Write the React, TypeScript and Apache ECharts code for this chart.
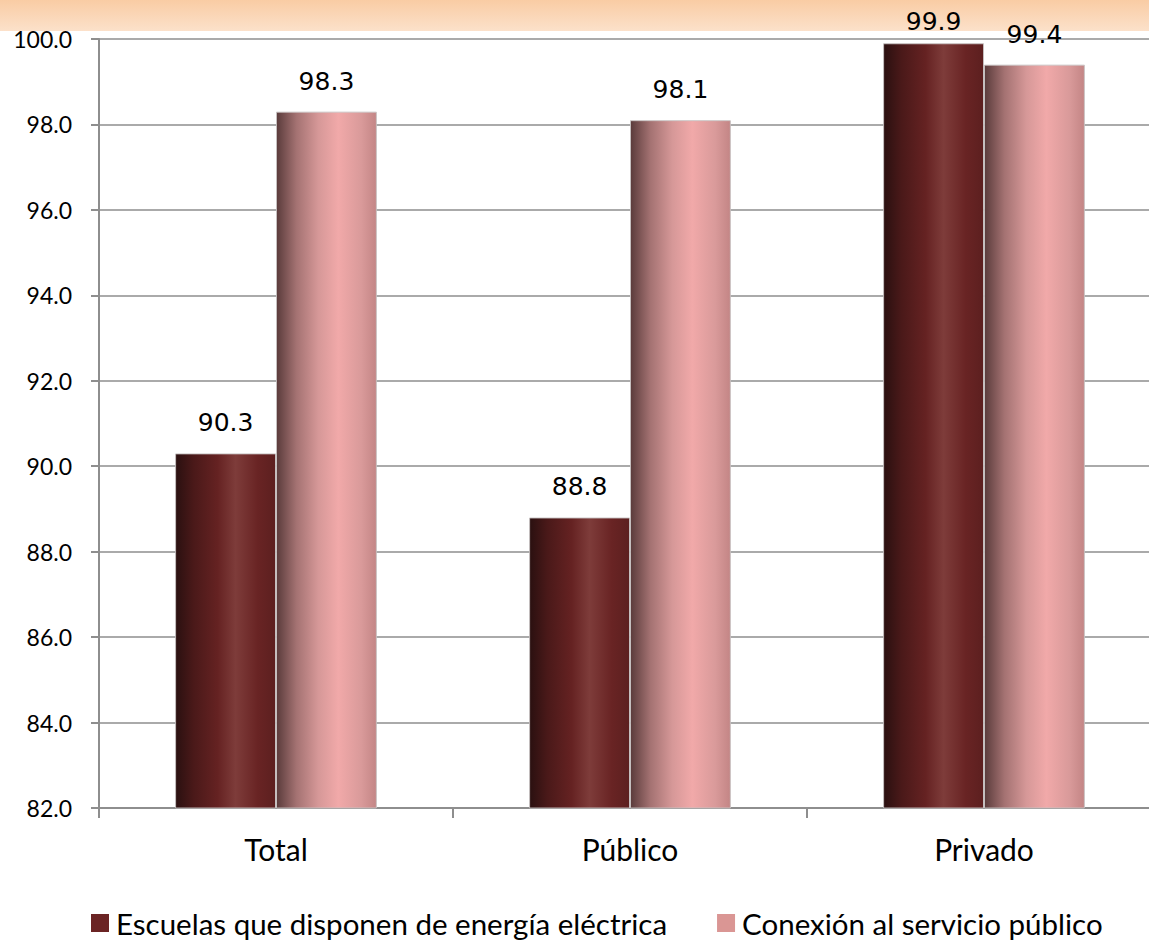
import React, { useEffect, useRef } from "react";
import * as echarts from "echarts";

const categories = ["Total", "Público", "Privado"];
const seriesNames = ["Escuelas que disponen de energía eléctrica", "Conexión al servicio público"];
const energia = [90.3, 88.8, 99.9];
const conexion = [98.3, 98.1, 99.4];
const yMin = 82;
const yMax = 100;
const yInterval = 2;

// labels that would climb above the chart area are nudged closer to their bar
const withLabelFit = (arr: number[]) =>
  arr.map((v) => (v > yMax - 0.3 ? { value: v, label: { distance: 9 } } : v));

export default function App() {
  const ref = useRef<HTMLDivElement>(null);
  useEffect(() => {
    document.body.style.margin = "0";
    const chart = echarts.init(ref.current!, null, { renderer: "svg" });
    const darkGrad = new echarts.graphic.LinearGradient(0, 0, 1, 0, [
      { offset: 0, color: "#2a1010" },
      { offset: 0.18, color: "#4a1919" },
      { offset: 0.42, color: "#652222" },
      { offset: 0.6, color: "#7e3c3a" },
      { offset: 0.82, color: "#692424" },
      { offset: 1, color: "#5c1f1f" },
    ]);
    const pinkGrad = new echarts.graphic.LinearGradient(0, 0, 1, 0, [
      { offset: 0, color: "#5a3b3b" },
      { offset: 0.2, color: "#a47272" },
      { offset: 0.42, color: "#d69898" },
      { offset: 0.62, color: "#f1a9a9" },
      { offset: 0.85, color: "#d99a9a" },
      { offset: 1, color: "#c38585" },
    ]);
    const labelStyle = {
      show: true,
      position: "top" as const,
      distance: 18,
      fontFamily: "DejaVu Sans",
      fontSize: 25,
      lineHeight: 25,
      color: "#000",
      formatter: (p: any) => Number(p.value).toFixed(1),
    };
    chart.setOption({
      animation: false,
      backgroundColor: "#ffffff",
      graphic: [
        {
          type: "rect",
          z: 0,
          shape: { x: 0, y: 0, width: 1149, height: 31 },
          style: {
            fill: new echarts.graphic.LinearGradient(0, 0, 0, 1, [
              { offset: 0, color: "#f9cca4" },
              { offset: 1, color: "#fce1ca" },
            ]),
          },
        },
      ],
      grid: {
        left: 99,
        top: 39,
        width: 1062,
        height: 769,
        containLabel: false,
        outerBoundsMode: "none",
      },
      legend: {
        left: 91,
        top: 908,
        padding: 0,
        itemWidth: 18,
        itemHeight: 18,
        itemGap: 50,
        icon: "rect",
        textStyle: {
          fontFamily: "Lato",
          fontSize: 29.5,
          lineHeight: 30,
          color: "#000",
          padding: [0, 0, 0, 2],
        },
        data: [
          { name: seriesNames[0], itemStyle: { color: "#6b2424", borderWidth: 0 } },
          { name: seriesNames[1], itemStyle: { color: "#da9694", borderWidth: 0 } },
        ],
      },
      xAxis: {
        type: "category",
        data: categories,
        axisLine: { lineStyle: { color: "#8e8e8e", width: 2 } },
        axisTick: { show: true, length: 10, lineStyle: { color: "#8e8e8e", width: 2 } },
        axisLabel: { fontFamily: "Lato", fontSize: 30, color: "#000", margin: 26 },
      },
      yAxis: {
        type: "value",
        min: yMin,
        max: yMax,
        interval: yInterval,
        axisLine: { show: true, lineStyle: { color: "#8e8e8e", width: 2 } },
        axisTick: { show: true, length: 8, lineStyle: { color: "#8e8e8e", width: 2 } },
        splitLine: { show: true, lineStyle: { color: "#8e8e8e", width: 1.5 } },
        axisLabel: {
          fontFamily: "Lato",
          fontSize: 23,
          color: "#000",
          margin: 27,
          formatter: (v: number) => v.toFixed(1),
        },
      },
      series: [
        {
          name: seriesNames[0],
          type: "bar",
          data: withLabelFit(energia),
          barGap: "0%",
          barCategoryGap: "43%",
          itemStyle: { color: darkGrad, borderColor: "rgba(200,195,195,0.9)", borderWidth: 1 },
          label: labelStyle,
        },
        {
          name: seriesNames[1],
          type: "bar",
          data: withLabelFit(conexion),
          barGap: "0%",
          barCategoryGap: "43%",
          itemStyle: { color: pinkGrad, borderColor: "rgba(200,195,195,0.9)", borderWidth: 1 },
          label: labelStyle,
        },
      ],
    });
    return () => chart.dispose();
  }, []);
  return <div ref={ref} style={{ width: 1149, height: 940 }} />;
}
